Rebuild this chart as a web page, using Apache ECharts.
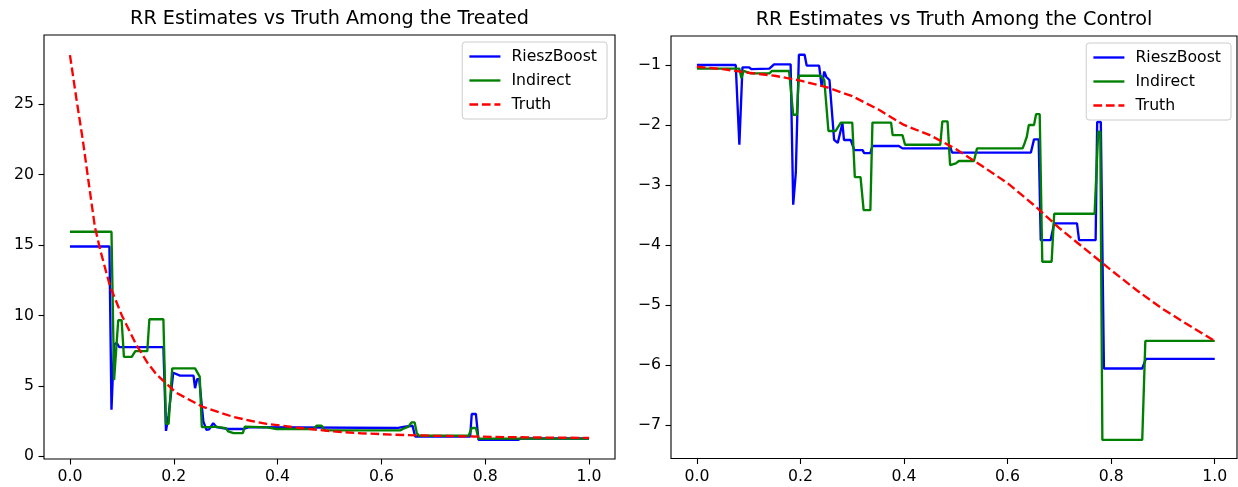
<!DOCTYPE html>
<html>
<head>
<meta charset="utf-8">
<script src="https://cdn.jsdelivr.net/npm/echarts@6/dist/echarts.min.js"></script>
<style>
html,body{margin:0;padding:0;background:#fff;}
#chart{width:1238px;height:487px;}
</style>
</head>
<body>
<div id="chart"></div>
<script>
// ---------- Treated panel data ----------
const treatedRieszX = [0, 0.076, 0.080, 0.085, 0.090, 0.095, 0.180, 0.185, 0.190, 0.199, 0.212, 0.238, 0.241, 0.245, 0.249, 0.257, 0.263, 0.268, 0.276, 0.282, 0.305, 0.333, 0.345, 0.630, 0.645, 0.660, 0.665, 0.771, 0.774, 0.782, 0.787, 0.864, 0.868, 1.0];
const treatedRieszY = [14.9, 14.9, 3.3, 7.94, 8.05, 7.75, 7.75, 1.8, 2.9, 5.93, 5.72, 5.72, 4.83, 5.48, 5.48, 2.46, 1.88, 1.9, 2.35, 2.07, 1.93, 1.93, 2.07, 2.0, 2.1, 2.16, 1.4, 1.4, 3.0, 3.0, 1.17, 1.17, 1.26, 1.26];

const treatedIndirectX = [0, 0.080, 0.085, 0.093, 0.0995, 0.104, 0.119, 0.126, 0.149, 0.153, 0.180, 0.185, 0.190, 0.197, 0.241, 0.250, 0.254, 0.271, 0.280, 0.300, 0.305, 0.315, 0.333, 0.337, 0.380, 0.398, 0.469, 0.475, 0.485, 0.491, 0.636, 0.645, 0.652, 0.658, 0.664, 0.668, 0.672, 0.768, 0.774, 0.782, 0.787, 1.0];
const treatedIndirectY = [15.95, 15.95, 5.41, 9.66, 9.66, 7.06, 7.06, 7.47, 7.47, 9.73, 9.73, 2.3, 2.3, 6.24, 6.24, 5.65, 2.07, 2.07, 2.1, 2.0, 1.76, 1.64, 1.64, 2.1, 2.05, 1.93, 1.93, 2.16, 2.16, 1.83, 1.83, 2.0, 2.1, 2.4, 2.4, 1.68, 1.45, 1.45, 2.0, 2.0, 1.25, 1.25];

const treatedTruthX = [0, 0.012, 0.025, 0.037, 0.048, 0.058, 0.077, 0.1, 0.128, 0.15, 0.167, 0.205, 0.256, 0.289, 0.314, 0.35, 0.379, 0.443, 0.507, 0.56, 0.623, 0.7, 0.777, 0.85, 0.92, 1.0];
const treatedTruthY = [28.5, 25.5, 22.4, 19.2, 16.3, 14.7, 12.1, 10.0, 7.9, 6.6, 5.8, 4.5, 3.5, 3.1, 2.8, 2.5, 2.3, 2.0, 1.76, 1.63, 1.53, 1.45, 1.4, 1.35, 1.32, 1.3];

// ---------- Control panel data ----------
const controlRieszX = [0, 0.075, 0.082, 0.088, 0.101, 0.105, 0.140, 0.149, 0.181, 0.186, 0.191, 0.193, 0.197, 0.208, 0.212, 0.236, 0.241, 0.246, 0.250, 0.256, 0.265, 0.272, 0.281, 0.284, 0.297, 0.304, 0.320, 0.323, 0.335, 0.339, 0.390, 0.397, 0.490, 0.493, 0.645, 0.651, 0.660, 0.664, 0.683, 0.690, 0.734, 0.738, 0.770, 0.773, 0.780, 0.786, 0.860, 0.867, 1.0];
const controlRieszY = [-1.0, -1.0, -2.33, -1.04, -1.04, -1.07, -1.06, -0.99, -0.99, -3.33, -2.8, -2.8, -0.83, -0.83, -1.01, -1.01, -1.36, -1.11, -1.2, -1.25, -2.25, -2.3, -1.97, -2.25, -2.25, -2.42, -2.42, -2.47, -2.47, -2.35, -2.35, -2.39, -2.39, -2.46, -2.46, -2.24, -2.24, -3.92, -3.92, -3.64, -3.64, -3.92, -3.92, -1.95, -1.95, -6.06, -6.06, -5.9, -5.9];

const controlIndirectX = [0, 0.082, 0.086, 0.090, 0.097, 0.104, 0.140, 0.145, 0.178, 0.186, 0.193, 0.197, 0.239, 0.246, 0.254, 0.268, 0.278, 0.300, 0.305, 0.316, 0.322, 0.335, 0.339, 0.375, 0.378, 0.397, 0.402, 0.470, 0.474, 0.484, 0.489, 0.500, 0.506, 0.535, 0.541, 0.629, 0.633, 0.637, 0.641, 0.651, 0.655, 0.662, 0.667, 0.685, 0.690, 0.768, 0.775, 0.779, 0.783, 0.860, 0.866, 1.0];
const controlIndirectY = [-1.06, -1.06, -1.22, -1.1, -1.12, -1.14, -1.14, -1.1, -1.1, -1.83, -1.83, -1.18, -1.18, -1.25, -2.1, -2.1, -1.96, -1.96, -2.87, -2.87, -3.42, -3.42, -1.96, -1.96, -2.17, -2.17, -2.33, -2.33, -1.94, -1.94, -2.67, -2.64, -2.6, -2.6, -2.39, -2.39, -2.3, -2.2, -2.0, -2.0, -1.82, -1.82, -4.28, -4.28, -3.48, -3.48, -2.11, -2.11, -7.25, -7.25, -5.6, -5.6];

const controlTruthX = [0, 0.05, 0.1, 0.15, 0.2, 0.25, 0.3, 0.35, 0.4, 0.45, 0.5, 0.55, 0.6, 0.65, 0.7, 0.75, 0.8, 0.85, 0.9, 0.95, 1.0];
const controlTruthY = [-1.03, -1.07, -1.13, -1.18, -1.26, -1.37, -1.52, -1.74, -2.0, -2.17, -2.4, -2.68, -2.97, -3.33, -3.72, -4.07, -4.42, -4.76, -5.07, -5.34, -5.6];

// ---------- Ticks / labels ----------
const xTicks = [0, 0.2, 0.4, 0.6, 0.8, 1.0];
const treatedYTicks = [0, 5, 10, 15, 20, 25];
const controlYTicks = [-7, -6, -5, -4, -3, -2, -1];
const seriesNames = ['RieszBoost', 'Indirect', 'Truth'];
const titles = ['RR Estimates vs Truth Among the Treated', 'RR Estimates vs Truth Among the Control'];

function zip(xs, ys) { return xs.map((x, i) => [x, ys[i]]); }

const FONT = 'DejaVu Sans';
const FS = 15.7;
const LW = 2.35;
const colors = ['#0000ff', '#008000', '#ff0000'];

function xAxisCfg(gi, max) {
  return {
    gridIndex: gi, type: 'value', min: -0.05, max: max, position: 'bottom',
    splitLine: { show: false },
    axisLine: { show: false, onZero: false },
    axisTick: { show: true, length: 5.5, lineStyle: { color: '#000', width: 1.1 }, customValues: xTicks },
    axisLabel: { customValues: xTicks, formatter: v => v.toFixed(1), color: '#000', fontSize: FS, fontFamily: FONT, margin: 10 }
  };
}
function yAxisCfg(gi, min, max, ticks, fmt) {
  return {
    gridIndex: gi, type: 'value', min: min, max: max, position: 'left',
    splitLine: { show: false },
    axisLine: { show: false, onZero: false },
    axisTick: { show: true, length: 5.5, lineStyle: { color: '#000', width: 1.1 }, customValues: ticks },
    axisLabel: { customValues: ticks, formatter: fmt, color: '#000', fontSize: FS, fontFamily: FONT, margin: 10 }
  };
}
function lineSeries(name, gi, data, idx) {
  return {
    name: name, type: 'line', xAxisIndex: gi, yAxisIndex: gi,
    data: data, symbol: 'none', showSymbol: false, animation: false,
    lineStyle: { color: colors[idx], width: LW, type: idx === 2 ? [8.7, 3.8] : 'solid' },
    itemStyle: { color: colors[idx] },
    z: idx === 2 ? 4 : 2 + idx * 0.1
  };
}
function legendCfg(right, top) {
  return {
    orient: 'vertical', right: right, top: top,
    data: seriesNames,
    itemWidth: 31, itemHeight: 16, itemGap: 8,
    padding: [6.5, 10, 6.5, 6],
    backgroundColor: 'rgba(255,255,255,0.8)',
    borderColor: '#cccccc', borderWidth: 1, borderRadius: 3,
    selectedMode: false,
    itemStyle: { opacity: 0 },
    lineStyle: { width: LW },
    textStyle: { color: '#000', fontSize: FS, fontFamily: FONT, padding: [0, 0, 0, 6] }
  };
}

const chart = echarts.init(document.getElementById('chart'), null, { renderer: 'canvas' });
chart.setOption({
  animation: false,
  backgroundColor: '#fff',
  grid: [
    { left: 44, top: 35, width: 571, height: 424, show: true, borderColor: '#000', borderWidth: 1.1, backgroundColor: 'transparent' },
    { left: 671, top: 36, width: 566, height: 422.5, show: true, borderColor: '#000', borderWidth: 1.1, backgroundColor: 'transparent' }
  ],
  xAxis: [xAxisCfg(0, 1.05), xAxisCfg(1, 1.043)],
  yAxis: [
    yAxisCfg(0, -0.2, 29.93, treatedYTicks, v => String(v)),
    yAxisCfg(1, -7.56, -0.517, controlYTicks, v => (v < 0 ? '\u2212' + Math.abs(v) : String(v)))
  ],
  legend: [legendCfg(631, 42), legendCfg(7, 43)],
  graphic: [
    { type: 'text', x: 329.5, y: 19, style: { text: titles[0], fill: '#000', font: '19.2px "DejaVu Sans"', textAlign: 'center', textVerticalAlign: 'middle' } },
    { type: 'text', x: 954, y: 20, style: { text: titles[1], fill: '#000', font: '19.2px "DejaVu Sans"', textAlign: 'center', textVerticalAlign: 'middle' } }
  ],
  series: [
    lineSeries(seriesNames[0], 0, zip(treatedRieszX, treatedRieszY), 0),
    lineSeries(seriesNames[1], 0, zip(treatedIndirectX, treatedIndirectY), 1),
    lineSeries(seriesNames[2], 0, zip(treatedTruthX, treatedTruthY), 2),
    lineSeries(seriesNames[0], 1, zip(controlRieszX, controlRieszY), 0),
    lineSeries(seriesNames[1], 1, zip(controlIndirectX, controlIndirectY), 1),
    lineSeries(seriesNames[2], 1, zip(controlTruthX, controlTruthY), 2)
  ]
});
</script>
</body>
</html>
